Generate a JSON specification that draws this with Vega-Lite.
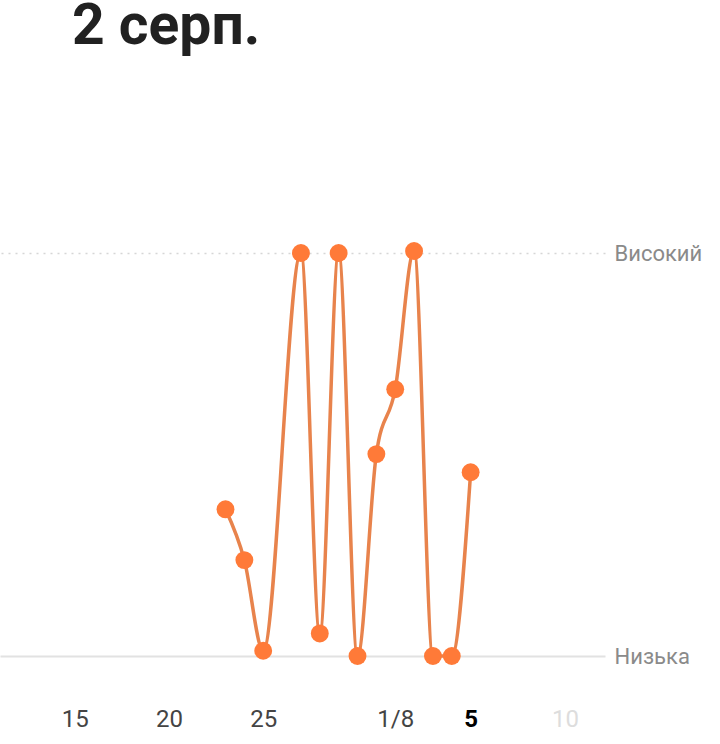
{
  "$schema": "https://vega.github.io/schema/vega-lite/v6.json",
  "autosize": {"type": "none"},
  "padding": {"left": 0, "top": 253, "right": 115, "bottom": 88},
  "width": 605,
  "height": 403,
  "background": "white",
  "title": {
    "text": "2 серп.",
    "anchor": "start",
    "frame": "group",
    "dx": 72,
    "offset": 141,
    "baseline": "alphabetic",
    "font": "Roboto",
    "fontSize": 57,
    "fontWeight": "bold",
    "color": "#212121"
  },
  "data": {
    "values": [
      {"date": "2023-07-23", "level": 36.4},
      {"date": "2023-07-24", "level": 23.8},
      {"date": "2023-07-25", "level": 1.3},
      {"date": "2023-07-27", "level": 100},
      {"date": "2023-07-28", "level": 5.6},
      {"date": "2023-07-29", "level": 100},
      {"date": "2023-07-30", "level": 0},
      {"date": "2023-07-31", "level": 50.1},
      {"date": "2023-08-01", "level": 66.2},
      {"date": "2023-08-02", "level": 100.5},
      {"date": "2023-08-03", "level": 0},
      {"date": "2023-08-04", "level": 0},
      {"date": "2023-08-05", "level": 45.6}
    ]
  },
  "encoding": {
    "x": {
      "field": "date",
      "type": "temporal",
      "scale": {
        "type": "utc",
        "domain": [
          {"year": 2023, "month": 7, "date": 11, "hours": 1, "utc": true},
          {"year": 2023, "month": 8, "date": 12, "hours": 3, "utc": true}
        ]
      },
      "axis": {
        "title": null,
        "domain": false,
        "ticks": false,
        "grid": false,
        "values": [
          {"year": 2023, "month": 7, "date": 15, "utc": true},
          {"year": 2023, "month": 7, "date": 20, "utc": true},
          {"year": 2023, "month": 7, "date": 25, "utc": true},
          {"year": 2023, "month": 8, "date": 1, "utc": true},
          {"year": 2023, "month": 8, "date": 5, "utc": true},
          {"year": 2023, "month": 8, "date": 10, "utc": true}
        ],
        "labelExpr": "utcdate(datum.value) == 1 ? '1/8' : '' + utcdate(datum.value)",
        "labelFont": "Roboto",
        "labelFontSize": 24,
        "labelPadding": 51,
        "labelColor": {
          "condition": [
            {"test": "utcmonth(datum.value) == 7 && utcdate(datum.value) == 5", "value": "#000000"},
            {"test": "utcmonth(datum.value) == 7 && utcdate(datum.value) == 10", "value": "#dddddd"}
          ],
          "value": "#444444"
        },
        "labelFontWeight": {
          "condition": {"test": "utcmonth(datum.value) == 7 && utcdate(datum.value) == 5", "value": "bold"},
          "value": "normal"
        }
      }
    },
    "y": {
      "field": "level",
      "type": "quantitative",
      "scale": {"domain": [0, 100], "nice": false, "zero": false},
      "axis": {
        "title": null,
        "orient": "right",
        "domain": false,
        "ticks": false,
        "values": [0, 100],
        "labelExpr": "datum.value == 100 ? 'Високий' : 'Низька'",
        "labelFont": "Roboto",
        "labelFontSize": 22,
        "labelColor": "#8a8a8a",
        "labelPadding": 9,
        "labelBaseline": "middle",
        "grid": true,
        "gridColor": {
          "condition": {"test": "datum.value == 0", "value": "#e2e2e2"},
          "value": "#d6d6d6"
        },
        "gridWidth": {
          "condition": {"test": "datum.value == 0", "value": 2},
          "value": 1.5
        },
        "gridDash": {
          "condition": {"test": "datum.value == 0", "value": []},
          "value": [2, 5]
        }
      }
    }
  },
  "layer": [
    {
      "mark": {"type": "line", "interpolate": "monotone", "color": "#e8834c", "strokeWidth": 3.5}
    },
    {
      "mark": {"type": "point", "filled": true, "opacity": 1, "size": 320, "color": "#ff7a38"}
    }
  ],
  "config": {
    "view": {"stroke": null}
  }
}
